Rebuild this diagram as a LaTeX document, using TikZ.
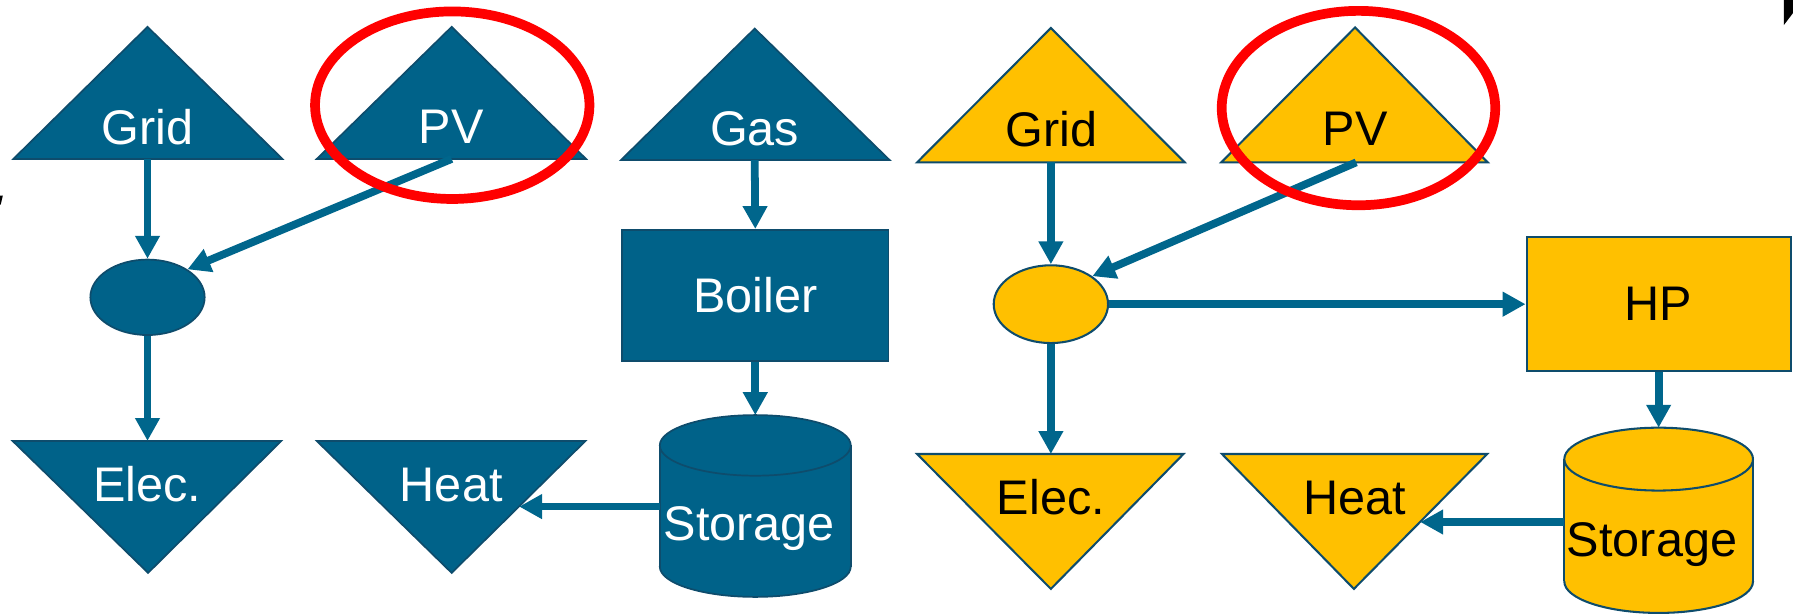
\documentclass[tikz,border=0pt]{standalone}
\usepackage{fontspec}
\setmainfont{Liberation Sans}
\usetikzlibrary{arrows.meta,shapes.geometric}
\definecolor{cblue}{RGB}{0,98,137}
\definecolor{cedge}{RGB}{14,76,108}
\definecolor{carrow}{RGB}{0,102,140}
\definecolor{cgold}{RGB}{255,192,0}
\definecolor{cred}{RGB}{255,0,0}
\tikzset{
  bshape/.style={fill=cblue, draw=cedge, line width=1.5pt},
  yshape/.style={fill=cgold, draw=cedge, line width=1.8pt},
  lbl/.style={font=\fontsize{42.5}{50}\selectfont, inner sep=0pt, anchor=base},
  wlbl/.style={lbl, text=white},
  klbl/.style={lbl, text=black},
  boxlbl/.style={font=\fontsize{42.5}{50}\selectfont, inner sep=0pt, rectangle},
  flow/.style={draw=carrow, line width=6.8pt, -{Triangle[length=20pt,width=20.5pt]}},
  redring/.style={draw=cred, line width=8.5pt},
}
\begin{document}
\begin{tikzpicture}[x=1pt,y=-1pt]
\useasboundingbox (0,0) rectangle (1568,538);

% ---------- left (blue) system ----------
\draw[bshape] (11.7,139) -- (129,23.5) -- (247,139) -- cycle;
\node[wlbl] (grid1) at (129,126.8) {Grid};
\coordinate (grid1b) at (129,139);

\draw[bshape] (277,139) -- (395,23.5) -- (512.5,139) -- cycle;
\node[wlbl] (pv1) at (394.5,125.3) {PV};
\coordinate (pv1b) at (395,139);

\draw[bshape] (543,140) -- (660,25) -- (778,140) -- cycle;
\node[wlbl] (gas) at (660,127.4) {Gas};
\coordinate (gasb) at (660,140);

\node[ellipse, bshape, minimum width=100pt, minimum height=66pt, inner sep=0pt] (bus1) at (129,260) {};

\node[boxlbl, bshape, text=white, minimum width=233pt, minimum height=115pt] (boiler) at (660.5,258.5) {Boiler};

% storage 1 (cylinder)
\fill[cblue] (577,389.5) rectangle (744,495.5);
\fill[cblue] (660.5,495.5) ellipse [x radius=83.5, y radius=26.5];
\draw[cedge, line width=1.5pt] (577,389.5) -- (577,495.5) (744,389.5) -- (744,495.5);
\begin{scope}
  \clip (570,495.5) rectangle (752,530);
  \draw[cedge, line width=1.5pt] (660.5,495.5) ellipse [x radius=83.5, y radius=26.5];
\end{scope}
\draw[bshape] (660.5,389.5) ellipse [x radius=83.5, y radius=26.5];
\node[wlbl] (st1) at (655,472.8) {Storage};
\coordinate (st1top) at (660.5,363);
\coordinate (st1l) at (577,443);

\draw[bshape] (11,385.6) -- (246,385.6) -- (129.5,501) -- cycle;
\node[wlbl] (elec1) at (128.8,438.7) {Elec.};
\coordinate (elec1t) at (129,385.6);

\draw[bshape] (277,385.6) -- (512,385.6) -- (395,501) -- cycle;
\node[wlbl] (heat1) at (394.6,438.7) {Heat};
\coordinate (heat1e) at (454,443);

\draw[flow] (grid1b) -- (bus1.north);
\draw[flow] (pv1b) -- (bus1.35);
\draw[flow] (bus1.south) -- (elec1t);
\draw[flow] (gasb) -- (boiler.north);
\draw[flow] (boiler.south) -- (st1top);
\draw[flow] (st1l) -- (heat1e);

% ---------- right (gold) system ----------
\draw[yshape] (802,142) -- (919,24.5) -- (1036,142) -- cycle;
\node[klbl] (grid2) at (919.5,128.3) {Grid};
\coordinate (grid2b) at (919,142);

\draw[yshape] (1068,142) -- (1185,24) -- (1301,142) -- cycle;
\node[klbl] (pv2) at (1185,127.4) {PV};
\coordinate (pv2b) at (1186,142);

\node[ellipse, yshape, minimum width=100pt, minimum height=68pt, inner sep=0pt] (bus2) at (919,266) {};

\node[boxlbl, yshape, text=black, minimum width=231pt, minimum height=117pt] (hp) at (1450.5,266) {HP};

% storage 2 (cylinder)
\fill[cgold] (1368,401.5) rectangle (1533,508.5);
\fill[cgold] (1450.5,508.5) ellipse [x radius=82.5, y radius=27.5];
\draw[cedge, line width=1.8pt] (1368,401.5) -- (1368,508.5) (1533,401.5) -- (1533,508.5);
\begin{scope}
  \clip (1360,508.5) rectangle (1541,545);
  \draw[cedge, line width=1.8pt] (1450.5,508.5) ellipse [x radius=82.5, y radius=27.5];
\end{scope}
\draw[yshape] (1450.5,401.5) ellipse [x radius=82.5, y radius=27.5];
\node[klbl] (st2) at (1444.7,486.8) {Storage};
\coordinate (st2top) at (1450.5,374);
\coordinate (st2l) at (1368,456.5);

\draw[yshape] (802,397) -- (1035,397) -- (919,515) -- cycle;
\node[klbl] (elec2) at (919,449.8) {Elec.};
\coordinate (elec2t) at (919,397);

\draw[yshape] (1068.6,397) -- (1300.6,397) -- (1184,515) -- cycle;
\node[klbl] (heat2) at (1185,449.8) {Heat};
\coordinate (heat2e) at (1242,456.5);

\draw[flow] (grid2b) -- (bus2.north);
\draw[flow] (pv2b) -- (bus2.34);
\draw[flow] (bus2.east) -- (hp.west);
\draw[flow] (bus2.south) -- (elec2t);
\draw[flow] (hp.south) -- (st2top);
\draw[flow] (st2l) -- (heat2e);

% ---------- red highlight rings ----------
\draw[redring] (395.5,92) ellipse [x radius=120, y radius=82];
\draw[redring] (1188,94.5) ellipse [x radius=119.6, y radius=85];

% ---------- edge fragments ----------
\fill[black] (1560,0) -- (1568,0) -- (1568,11.4) -- (1560,21.9) -- cycle;
\fill[black] (0,171) -- (2.5,171) -- (0.6,179) -- (0,179) -- cycle;
\end{tikzpicture}
\end{document}
